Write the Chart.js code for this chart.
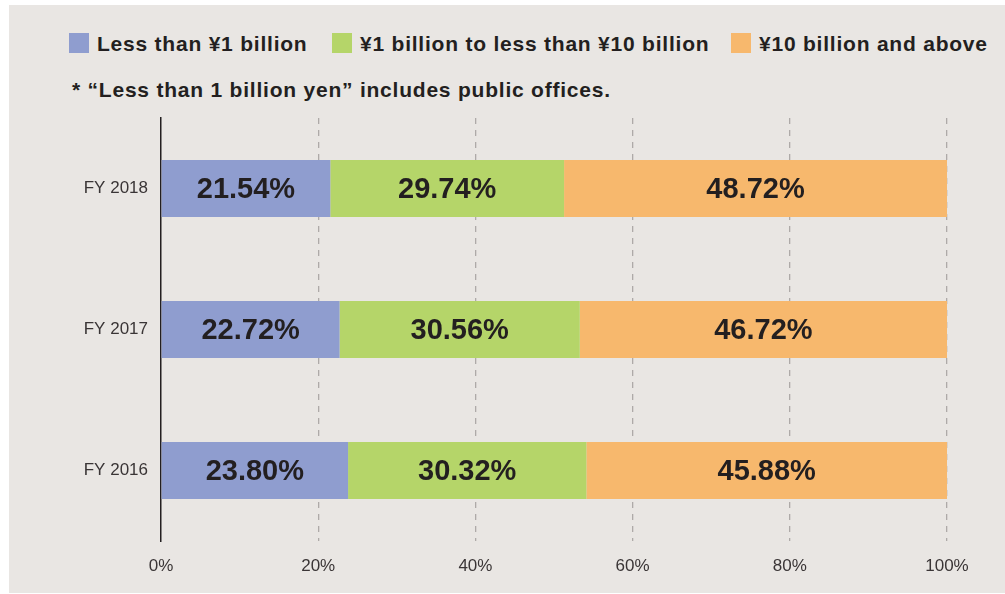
<!DOCTYPE html>
<html>
<head>
<meta charset="utf-8">
<script src="https://cdn.jsdelivr.net/npm/chart.js@4/dist/chart.umd.min.js"></script>
<style>
  html, body { margin: 0; padding: 0; background: #ffffff; }
  #wrap { position: absolute; left: 9px; top: 5px; width: 996px; height: 588px; background: #e9e6e3; }
  #chart { position: absolute; left: 0; top: 0; }
  .lg { position: absolute; font-family: "Liberation Sans", Arial, sans-serif; font-weight: bold; font-size: 21px; line-height: 21px; color: #231f20; letter-spacing: 0.78px; white-space: nowrap; }
  .box { position: absolute; width: 20px; height: 20px; }
</style>
</head>
<body>
<div id="wrap">
  <div id="legend"></div>
  <div class="lg" id="note" style="left:63px; top:74px;"></div>
  <canvas id="chart" width="996" height="588"></canvas>
</div>
<script>
const categories = ["FY 2018", "FY 2017", "FY 2016"];
const seriesNames = ["Less than ¥1 billion", "¥1 billion to less than ¥10 billion", "¥10 billion and above"];
const lessThan1 = [21.54, 22.72, 23.80];
const from1to10 = [29.74, 30.56, 30.32];
const over10 = [48.72, 46.72, 45.88];
const xTicks = [0, 20, 40, 60, 80, 100];
const noteText = "* \u201cLess than 1 billion yen\u201d includes public offices.";

const colors = ["#8f9dcf", "#b5d569", "#f7b86d"];
const legendLeft = [60, 323, 722];

// HTML legend
const lg = document.getElementById('legend');
seriesNames.forEach((name, i) => {
  const b = document.createElement('div');
  b.className = 'box';
  b.style.left = legendLeft[i] + 'px';
  b.style.top = '28px';
  b.style.background = colors[i];
  lg.appendChild(b);
  const t = document.createElement('div');
  t.className = 'lg';
  t.style.left = (legendLeft[i] + 28) + 'px';
  t.style.top = '28px';
  t.textContent = name;
  lg.appendChild(t);
});
document.getElementById('note').textContent = noteText;

const labelPlugin = {
  id: 'barLabels',
  afterDatasetsDraw(chart) {
    const ctx = chart.ctx;
    ctx.save();
    ctx.font = 'bold 29px "Liberation Sans", Arial, sans-serif';
    ctx.fillStyle = '#231f20';
    ctx.textAlign = 'center';
    ctx.textBaseline = 'middle';
    chart.data.datasets.forEach((ds, di) => {
      const meta = chart.getDatasetMeta(di);
      meta.data.forEach((el, i) => {
        const cx = (el.x + el.base) / 2;
        ctx.fillText(ds.data[i].toFixed(2) + '%', cx, el.y + 1);
      });
    });
    ctx.restore();
  }
};

const allSeries = [lessThan1, from1to10, over10];
new Chart(document.getElementById('chart'), {
  type: 'bar',
  data: {
    labels: categories,
    datasets: allSeries.map((d, i) => ({
      label: seriesNames[i],
      data: d,
      backgroundColor: colors[i],
      borderWidth: 0,
      barPercentage: 0.404,
      categoryPercentage: 1
    }))
  },
  options: {
    indexAxis: 'y',
    responsive: false,
    animation: false,
    devicePixelRatio: 1,
    layout: { padding: { left: 0, right: 58, top: 113, bottom: 0 } },
    plugins: { legend: { display: false }, tooltip: { enabled: false } },
    scales: {
      x: {
        stacked: true,
        min: 0, max: 100,
        afterBuildTicks(scale) { scale.ticks = xTicks.map(v => ({ value: v })); },
        afterFit(scale) { scale.height = 52; },
        ticks: {
          padding: 15,
          color: '#3a3536',
          font: { family: '"Liberation Sans", Arial, sans-serif', size: 17 },
          callback: v => v + '%'
        },
        grid: {
          drawTicks: false,
          lineWidth: 1.3,
          color: ctx => ctx.index === 0 ? 'rgba(0,0,0,0)' : '#aeaaa8'
        },
        border: { display: false, dash: [6, 6] }
      },
      y: {
        stacked: true,
        afterFit(scale) { scale.width = 152; },
        ticks: {
          padding: 13,
          color: '#3a3536',
          font: { family: '"Liberation Sans", Arial, sans-serif', size: 17 }
        },
        grid: { display: false, drawTicks: false },
        border: { display: true, color: '#231f20', width: 1.5 }
      }
    }
  },
  plugins: [labelPlugin]
});
</script>
</body>
</html>
